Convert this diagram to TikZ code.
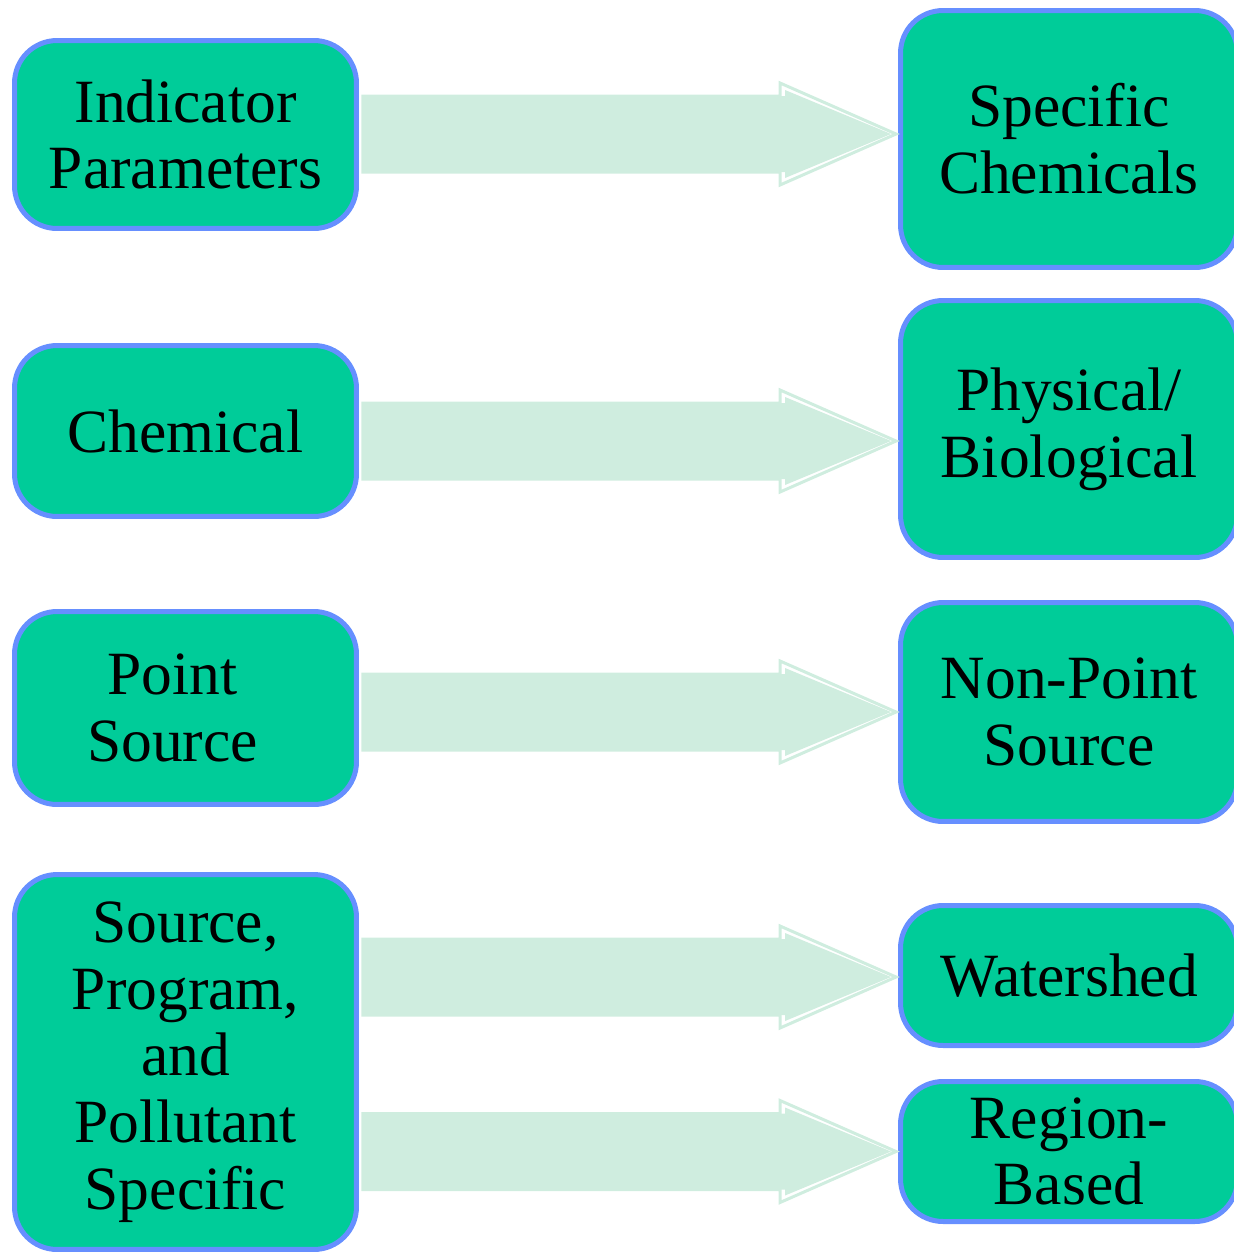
\documentclass[tikz,border=0pt]{standalone}
\usepackage{fontspec}
\setmainfont{Liberation Serif}
\usetikzlibrary{calc}
\definecolor{boxfill}{RGB}{0,204,153}
\definecolor{boxline}{RGB}{102,143,255}
\definecolor{arrowfill}{RGB}{207,237,223}
% block arrow: from node, to node, vertical offset of the tip (px)
\newcommand{\flowarrow}[3]{%
  \coordinate (tip) at ($(#2.west)+(-2,#3)$);
  \coordinate (tail) at ($(#1.east |- tip)+(4,0)$);
  \draw[arrowedge] ($(tail)+(0,-38)$) -- ($(tip)+(-116,-38)$) -- ($(tip)+(-116,-51)$)
    -- (tip) -- ($(tip)+(-116,51)$) -- ($(tip)+(-116,38)$) -- ($(tail)+(0,38)$) -- cycle;
  \fill[arrowfill] ($(tail)+(0,-38)$) -- ($(tip)+(-111,-38)$) -- ($(tip)+(-111,-44)$)
    -- ($(tip)+(-5,0)$) -- ($(tip)+(-111,44)$) -- ($(tip)+(-111,38)$) -- ($(tail)+(0,38)$) -- cycle;
}

\begin{document}
\begin{tikzpicture}[x=0.02cm,y=-0.02cm,
  box/.style={draw=boxline,fill=boxfill,line width=0.1cm,rounded corners=0.85cm,
    align=center,inner sep=0pt,font=\fontsize{35}{38}\selectfont},
  lbox/.style={box,minimum width=6.84cm},
  rbox/.style={box,minimum width=6.74cm},
  arrowedge/.style={draw=arrowfill,line width=0.06cm,line join=miter}]
  \useasboundingbox (0,0) rectangle (1234,1255);
  % left column
  \node[lbox,minimum height=3.76cm] (ind) at (185.5,134.5) {Indicator\\Parameters};
  \node[lbox,minimum height=3.42cm] (chem) at (185.5,431) {Chemical};
  \node[lbox,minimum height=3.86cm] (point) at (185.5,708) {Point\hspace*{0.52cm}\\Source\hspace*{0.52cm}};
  \node[lbox,minimum height=7.5cm] (src) at (185.5,1062) {Source,\\Program,\\and\\Pollutant\\Specific};
  % right column
  \node[rbox,minimum height=5.14cm] (spec) at (1069,139) {Specific\\Chemicals};
  \node[rbox,minimum height=5.14cm] (phys) at (1069,429) {Physical/\\Biological};
  \node[rbox,minimum height=4.38cm] (nonpoint) at (1069,712) {Non-Point\\Source};
  \node[rbox,minimum height=2.8cm] (water) at (1069,975.5) {Watershed};
  \node[rbox,minimum height=2.8cm] (region) at (1069,1151.5) {Region-\\Based};
  % arrows
  \flowarrow{ind}{spec}{-5}
  \flowarrow{chem}{phys}{12}
  \flowarrow{point}{nonpoint}{0}
  \flowarrow{src}{water}{1.5}
  \flowarrow{src}{region}{0}
\end{tikzpicture}
\end{document}
